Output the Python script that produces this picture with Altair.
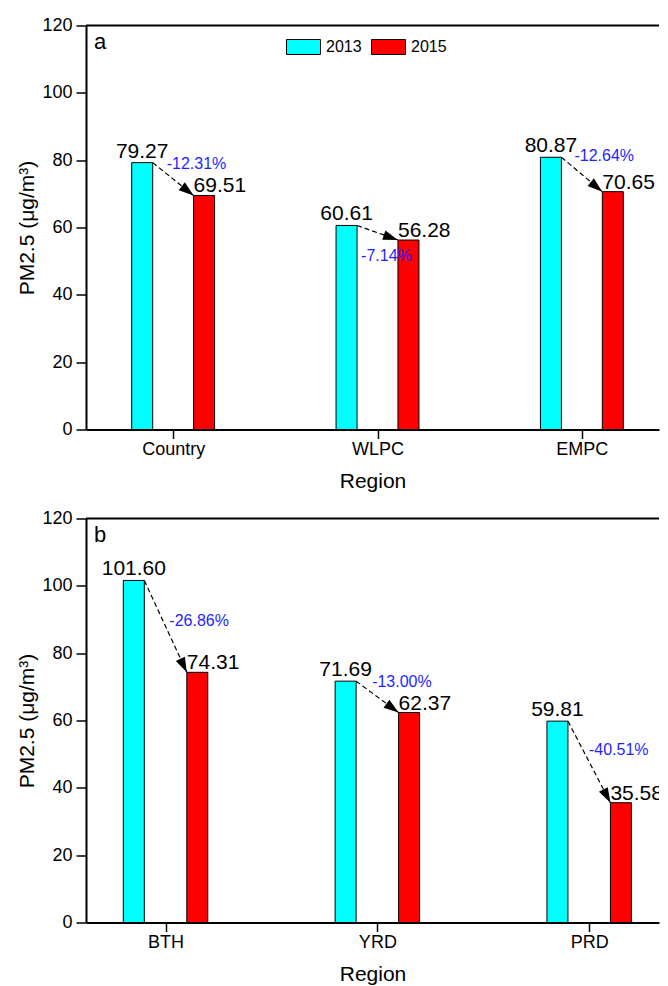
import math
import altair as alt
import pandas as pd

# ---------------- data ----------------
years = ["2013", "2015"]

regions_a = ["Country", "WLPC", "EMPC"]
pm2013_a = [79.27, 60.61, 80.87]
pm2015_a = [69.51, 56.28, 70.65]
change_a = ["-12.31%", "-7.14%", "-12.64%"]

regions_b = ["BTH", "YRD", "PRD"]
pm2013_b = [101.60, 71.69, 59.81]
pm2015_b = [74.31, 62.37, 35.58]
change_b = ["-26.86%", "-13.00%", "-40.51%"]

y_ticks = [0, 20, 40, 60, 80, 100, 120]

# ---------------- style ----------------
FONT = "Liberation Sans"
COLORS = ["#00FFFF", "#FF0000"]
PCT_COLOR = "#1f1fff"
W, H = 573, 404
BAR_W = 21
HALF = BAR_W / 2
# per-panel layout: x domain, bar offset (px), percent-label nudges (px)
LAYOUT = {
    "a": dict(xdom=[0.598, 3.353], gap=31.5,
              nudges=[(14, 1.5), (4, 31), (13, -1)]),
    "b": dict(xdom=[0.648, 3.306], gap=32.3,
              nudges=[(25, 41), (16, 1), (21, 28.5)]),
}
LEG_PATH = "M-1,-0.44L1,-0.44L1,0.44L-1,0.44Z"
HEAD_PATH = "M0,0L0.5,1.5L-0.5,1.5Z"


def panel(letter, regions, v13, v15, changes):
    lay = LAYOUT[letter]
    xmin, xmax = lay["xdom"]
    step = W / (xmax - xmin)
    off = lay["gap"] / step

    rows = []
    for i, r in enumerate(regions):
        rows.append(dict(region=r, idx=i + 1, year="2013", value=v13[i]))
        rows.append(dict(region=r, idx=i + 1, year="2015", value=v15[i]))
    bars = pd.DataFrame(rows)

    arr_rows = []
    for i, r in enumerate(regions):
        dx_px = 2 * lay["gap"] - BAR_W
        dy_px = (v13[i] - v15[i]) * H / 120.0
        ang = math.degrees(math.atan2(dx_px, -dy_px)) % 360
        arr_rows.append(dict(region=r, idx=i + 1, v13=v13[i], v15=v15[i],
                             pct=changes[i], ang=ang))
    arrows = pd.DataFrame(arr_rows)

    xscale = alt.Scale(domain=[xmin, xmax], nice=False, zero=False)
    yscale = alt.Scale(domain=[0, 120], nice=False)
    label_list = "[" + ",".join("'%s'" % r for r in regions) + "]"

    base = alt.Chart(bars).transform_calculate(
        xpos="datum.idx + (datum.year == '2013' ? -%f : %f)" % (off, off)
    )

    bar_layer = base.mark_bar(size=BAR_W, stroke="black", strokeWidth=1).encode(
        x=alt.X("xpos:Q", scale=xscale,
                axis=alt.Axis(values=[1, 2, 3], labelExpr=label_list + "[datum.value-1]",
                              title="Region", tickSize=9, labelPadding=2,
                              titlePadding=12, grid=False)),
        y=alt.Y("value:Q", scale=yscale,
                axis=alt.Axis(values=y_ticks, title="PM2.5 (μg/m³)", tickSize=10,
                              labelPadding=4, grid=False)),
        color=alt.Color("year:N", scale=alt.Scale(domain=years, range=COLORS),
                        legend=alt.Legend(orient="none", legendX=200, legendY=4,
                                          direction="horizontal", title=None,
                                          symbolType=LEG_PATH, symbolSize=1156,
                                          symbolStrokeColor="black", symbolStrokeWidth=1,
                                          symbolOpacity=1,
                                          labelFont=FONT, labelFontSize=16,
                                          labelColor="black", labelOffset=5,
                                          columnPadding=7, padding=0)),
    )

    lab13 = base.transform_filter("datum.year == '2013'").mark_text(
        font=FONT, fontSize=21, align="center", baseline="alphabetic", dy=-5,
        color="black", clip=True
    ).encode(x=alt.X("xpos:Q", scale=xscale), y=alt.Y("value:Q", scale=yscale),
             text=alt.Text("value:Q", format=".2f"))

    lab15 = base.transform_filter("datum.year == '2015'").mark_text(
        font=FONT, fontSize=21, align="left", baseline="alphabetic", dx=-HALF, dy=-3,
        color="black", clip=True
    ).encode(x=alt.X("xpos:Q", scale=xscale), y=alt.Y("value:Q", scale=yscale),
             text=alt.Text("value:Q", format=".2f"))

    abase = alt.Chart(arrows).transform_calculate(
        x1="datum.idx - %f" % off, x2="datum.idx + %f" % off
    )
    lines = abase.mark_rule(color="black", strokeWidth=1.2, strokeDash=[5, 3],
                            xOffset=HALF, x2Offset=-HALF).encode(
        x=alt.X("x1:Q", scale=xscale), x2="x2:Q",
        y=alt.Y("v13:Q", scale=yscale), y2="v15:Q")
    heads = abase.mark_point(shape=HEAD_PATH, filled=True, color="black", opacity=1,
                             size=400, xOffset=-HALF).encode(
        x=alt.X("x2:Q", scale=xscale), y=alt.Y("v15:Q", scale=yscale),
        angle=alt.Angle("ang:Q", scale=None))

    pct_layers = []
    for i, r in enumerate(regions):
        ndx, ndy = lay["nudges"][i]
        pct_layers.append(
            abase.transform_filter("datum.idx == %d" % (i + 1)).mark_text(
                font=FONT, fontSize=16, color=PCT_COLOR, align="left",
                baseline="middle", dx=HALF + ndx, dy=ndy
            ).encode(x=alt.X("x1:Q", scale=xscale), y=alt.Y("v13:Q", scale=yscale),
                     text="pct:N")
        )

    one = pd.DataFrame({"k": [0]})
    top_line = alt.Chart(one).mark_rule(color="black", strokeWidth=2).encode(
        x=alt.value(0), x2=alt.value(W), y=alt.value(0))
    letter_txt = alt.Chart(one).mark_text(
        font=FONT, fontSize=22, align="left", baseline="alphabetic", color="black"
    ).encode(x=alt.value(8), y=alt.value(23), text=alt.value(letter))

    return alt.layer(bar_layer, lines, heads, lab13, lab15, *pct_layers,
                     top_line, letter_txt).properties(width=W, height=H)


pa = panel("a", regions_a, pm2013_a, pm2015_a, change_a)
pb = panel("b", regions_b, pm2013_b, pm2015_b, change_b)

chart = alt.vconcat(pa, pb, spacing=18).properties(
    padding={"left": 8, "top": 8.5, "right": 0, "bottom": 0}
).configure_view(stroke=None).configure_axis(
    labelFont=FONT, titleFont=FONT, labelFontSize=18, titleFontSize=21,
    labelColor="black", titleColor="black", titleFontWeight="normal",
    domainColor="black", domainWidth=2, tickColor="black", tickWidth=1.5,
)

chart.save("out.html", embed_options={"renderer": "svg", "actions": False})
